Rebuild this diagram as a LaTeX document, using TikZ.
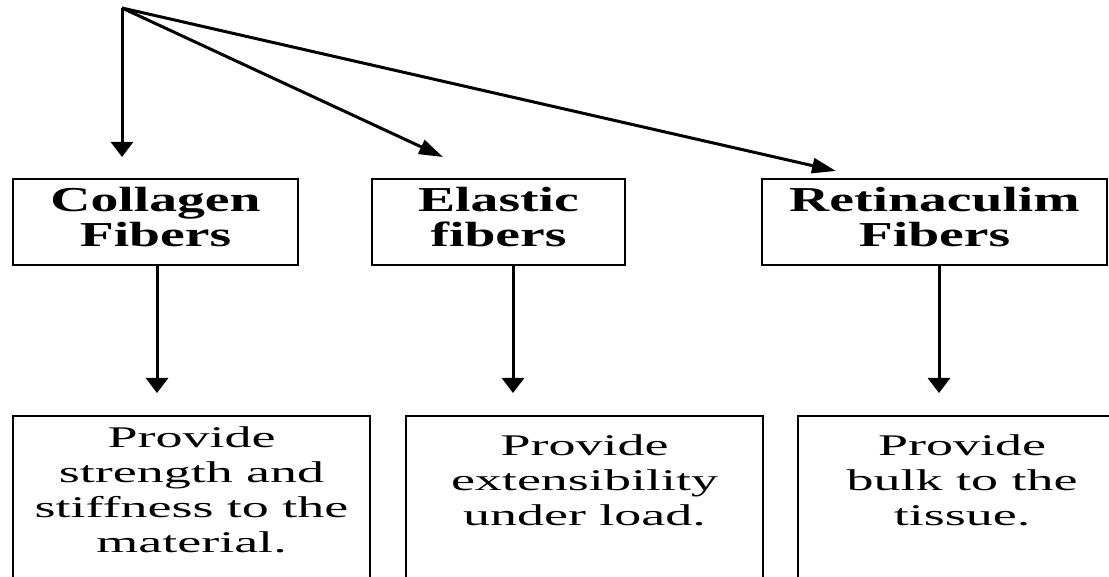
\documentclass[tikz,border=0pt]{standalone}
\usepackage{fontspec}
\usepackage{graphicx}
\setmainfont{Liberation Serif}
\usetikzlibrary{arrows.meta,positioning}
\newcommand{\widelines}[2]{\scalebox{#1}[1]{\begin{tabular}{@{}c@{}}#2\end{tabular}}}
\tikzset{
  fiberbox/.style={draw, line width=1.8pt, inner sep=0pt, minimum height=86pt,
    font=\bfseries\fontsize{35}{35}\selectfont},
  descbox/.style={draw, line width=1.8pt, inner sep=0pt, minimum height=200pt, anchor=north},
  desctext/.style={inner sep=0pt, font=\fontsize{30}{35}\selectfont},
  downarrow/.style={line width=3pt, -{Triangle[length=15pt,width=22pt]}},
  slantarrow/.style={line width=3pt, -{Triangle[length=24pt,width=15pt]}},
}
\begin{document}
\begin{tikzpicture}[x=1pt,y=-1pt]
\useasboundingbox (0,0) rectangle (1109,577);
\clip (0,0) rectangle (1109,577);
\coordinate (root) at (122,8);
\coordinate (tipcoll) at (122,157);
\coordinate (tipelas) at (443,157);
\coordinate (tipret) at (836,171);
\draw[downarrow] (root) -- (tipcoll);
\draw[slantarrow] (root) -- (tipelas);
\draw[slantarrow] (root) -- (tipret);
\node[fiberbox, minimum width=285pt] (collagen) at (155.5,222){\widelines{1.59}{Collagen\\Fibers}};
\node[fiberbox, minimum width=253pt] (elastic) at (498.5,222){\widelines{1.59}{Elastic\\fibers}};
\node[fiberbox, minimum width=345pt] (retin) at (934.5,222){\widelines{1.59}{Retinaculim\\Fibers}};
\coordinate (collend) at (157,393);
\coordinate (elasend) at (513,393);
\coordinate (retend) at (939,393);
\draw[downarrow] (collagen.south -| collend) -- (collend);
\draw[downarrow] (elastic.south -| elasend) -- (elasend);
\draw[downarrow] (retin.south -| retend) -- (retend);
\node[descbox, minimum width=357pt] (colldesc) at (191.5,415){};
\node[descbox, minimum width=357pt] (elasdesc) at (584.5,415){};
\node[descbox, minimum width=328pt] (retdesc) at (962,415){};
\node[desctext, below=8pt of colldesc.north] (colltext) {\widelines{1.8}{Provide\\strength and\\stiffness to the\\material.}};
\node[desctext, below=16pt of elasdesc.north] (elastext) {\widelines{1.8}{Provide\\extensibility\\under load.}};
\node[desctext, below=16pt of retdesc.north] (rettext) {\widelines{1.8}{Provide\\bulk to the\\tissue.}};
\end{tikzpicture}
\end{document}
